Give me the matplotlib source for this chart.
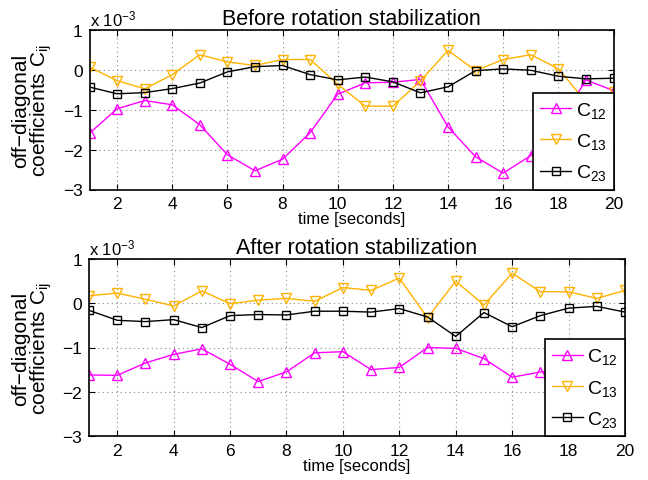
import matplotlib
matplotlib.use("Agg")
import matplotlib.pyplot as plt
from matplotlib.ticker import FuncFormatter, MultipleLocator
import numpy as np

plt.rcParams['font.family'] = ['Liberation Sans', 'DejaVu Sans']
plt.rcParams['mathtext.fontset'] = 'custom'
plt.rcParams['mathtext.rm'] = 'Liberation Sans'
plt.rcParams['mathtext.it'] = 'Liberation Sans'

time_s = list(range(1, 21))
scale = 1e-3

# Before rotation stabilization (units of 1e-3)
before_c12 = [-1.59, -0.975, -0.77, -0.875, -1.375, -2.13, -2.53, -2.24, -1.575, -0.61,
              -0.325, -0.31, -0.24, -1.43, -2.18, -2.59, -2.15, -1.40, -0.25, -0.52]
before_c13 = [0.07, -0.27, -0.475, -0.12, 0.38, 0.20, 0.11, 0.26, 0.26, -0.36,
              -0.91, -0.91, -0.28, 0.49, -0.02, 0.26, 0.38, 0.03, -0.80, -0.56]
before_c23 = [-0.43, -0.60, -0.57, -0.47, -0.33, -0.05, 0.08, 0.11, -0.12, -0.25,
              -0.18, -0.30, -0.575, -0.425, -0.02, 0.025, -0.01, -0.16, -0.225, -0.21]

# After rotation stabilization (units of 1e-3)
after_c12 = [-1.62, -1.63, -1.35, -1.155, -1.03, -1.38, -1.77, -1.55, -1.12, -1.095,
             -1.50, -1.45, -1.00, -1.02, -1.25, -1.67, -1.555, -1.45, -1.50, -1.645]
after_c13 = [0.17, 0.23, 0.09, -0.06, 0.28, -0.01, 0.07, 0.11, 0.045, 0.355,
             0.29, 0.57, -0.33, 0.50, -0.04, 0.68, 0.26, 0.26, 0.11, 0.29]
after_c23 = [-0.16, -0.385, -0.415, -0.37, -0.55, -0.28, -0.255, -0.265, -0.18, -0.18,
             -0.20, -0.12, -0.31, -0.75, -0.21, -0.53, -0.28, -0.11, -0.07, -0.20]

titles = ["Before rotation stabilization", "After rotation stabilization"]
labels = [r"$\mathregular{C_{12}}$", r"$\mathregular{C_{13}}$", r"$\mathregular{C_{23}}$"]
colors = ["#FF00FF", "#FFB300", "#000000"]
markers = ["^", "v", "s"]
msizes = [7.5, 7.5, 6]

W, H = 648, 481
fig = plt.figure(figsize=(W / 100, H / 100), dpi=100)

def rect(l, r, t, b):
    return [l / W, 1 - b / H, (r - l) / W, (b - t) / H]

ax_top = fig.add_axes(rect(89.5, 613.5, 31, 190.5))
ax_bot = fig.add_axes(rect(89, 625, 260, 437))

datasets = [(before_c12, before_c13, before_c23), (after_c12, after_c13, after_c23)]

fmt = FuncFormatter(lambda v, p: f"{v / scale:g}".replace("-", "\u2212"))

for ax, data, title in zip([ax_top, ax_bot], datasets, titles):
    for vals, c, m, ms, lab in zip(data, colors, markers, msizes, labels):
        ax.plot(time_s, np.array(vals) * scale, color=c, marker=m, markersize=ms,
                markerfacecolor='none', markeredgecolor=c, markeredgewidth=1.0,
                linewidth=1.0, label=lab)
    ax.set_xlim(1, 20)
    ax.set_ylim(-3 * scale, 1 * scale)
    ax.xaxis.set_major_locator(MultipleLocator(2))
    ax.yaxis.set_major_locator(MultipleLocator(1 * scale))
    ax.yaxis.set_major_formatter(fmt)
    ax.grid(True, linestyle=(0, (1, 3)), color='#888888', linewidth=0.8)
    ax.tick_params(direction='in', length=4, width=0.8, top=True, right=True,
                   labelsize=12.5, pad=5)
    for s in ax.spines.values():
        s.set_linewidth(1.2)
    ax.set_title(title, fontsize=15.5, pad=4)
    ax.set_xlabel("time [seconds]", fontsize=12, labelpad=0)
    ax.set_ylabel("off\u2212diagonal\ncoefficients C$_{\\mathregular{ij}}$",
                  fontsize=15, linespacing=0.9, labelpad=6)
    ax.text(0.0, 1.01, r"x 10$^{\mathregular{-3}}$", transform=ax.transAxes,
            fontsize=12, ha='left', va='bottom')
    leg = ax.legend(loc='lower right', borderaxespad=0, fancybox=False,
                    framealpha=1, edgecolor='black', fontsize=14,
                    handlelength=1.6, labelspacing=0.58, handletextpad=0.22,
                    borderpad=0.36)
    leg.get_frame().set_linewidth(1.2)

fig.savefig("out.png", dpi=100)
